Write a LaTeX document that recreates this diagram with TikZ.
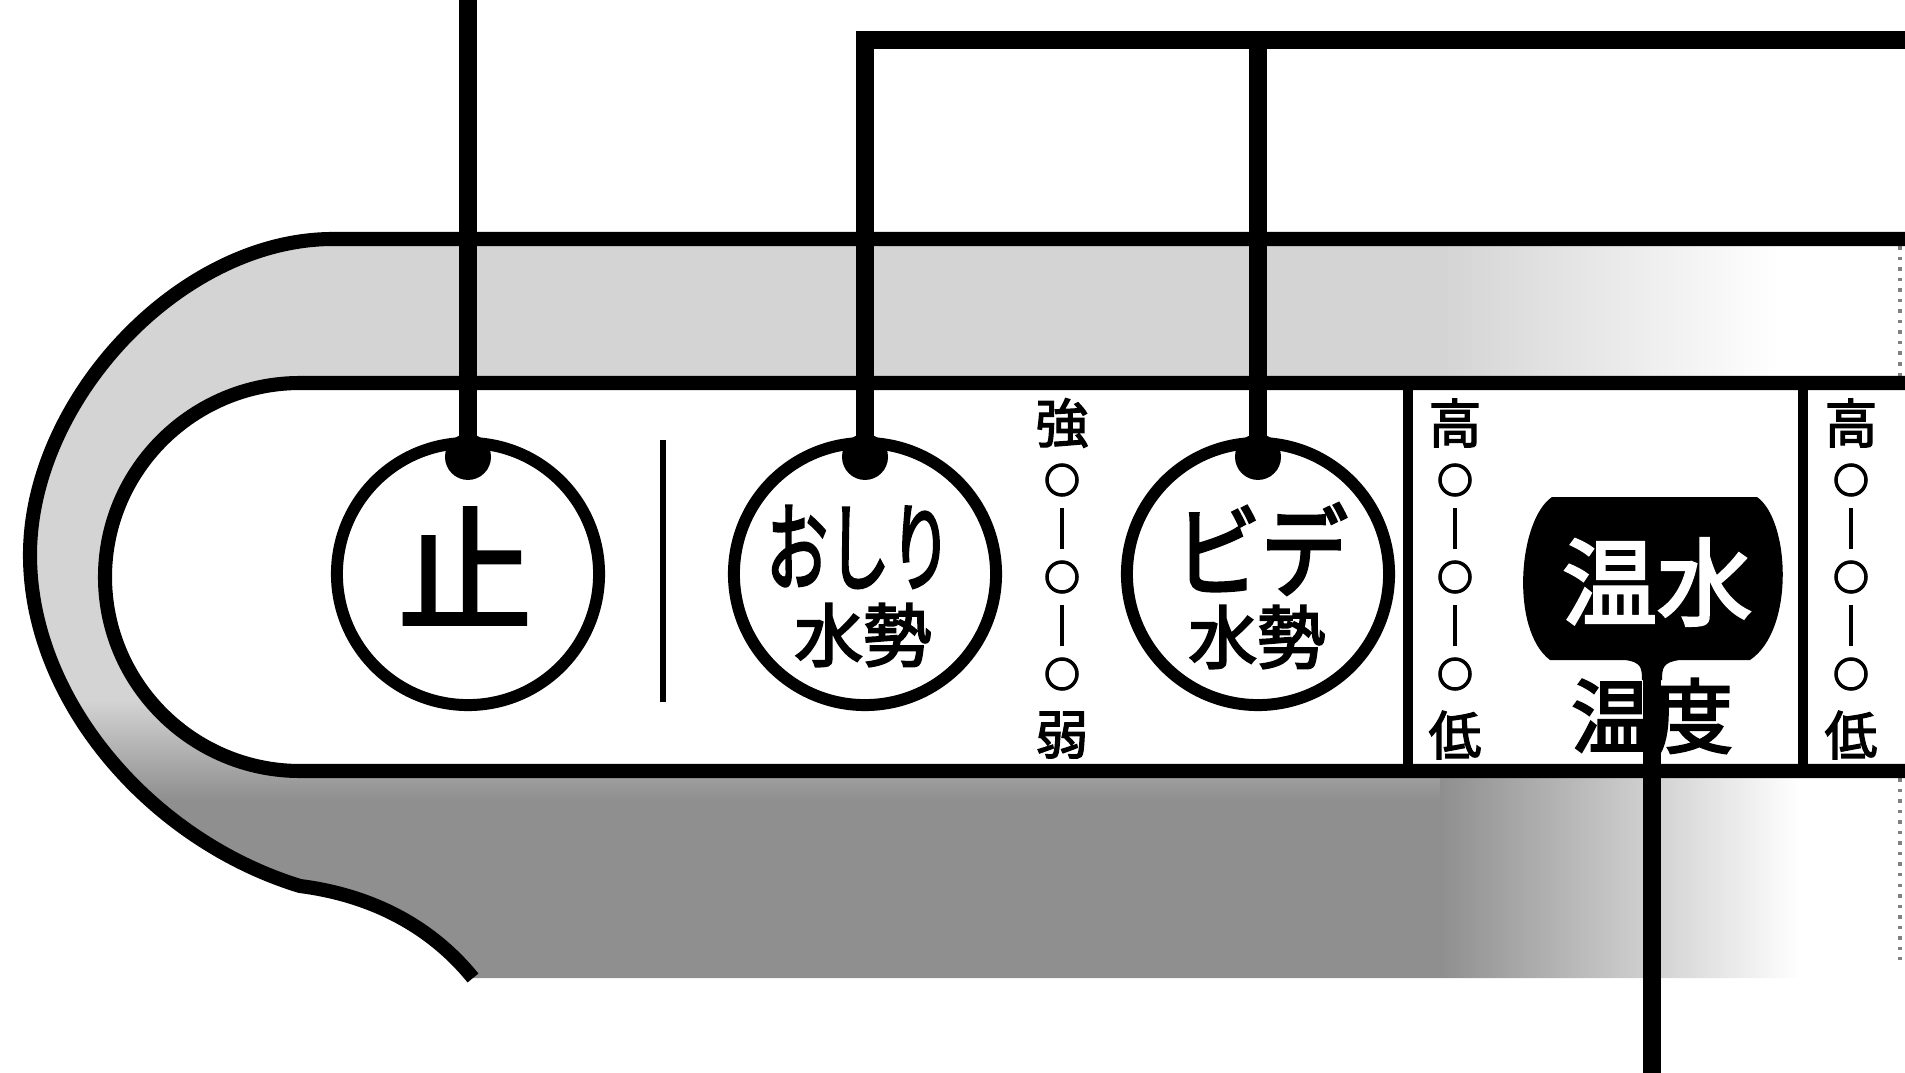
\documentclass[tikz,border=0pt]{standalone}
\usepackage{fontspec}
\usepackage{graphicx}
\newfontfamily\jp{Noto Sans CJK JP}[AutoFakeBold=2.5]
\newfontfamily\jpm{Noto Sans CJK JP}[FakeBold=3]
\newcommand\jpsize[1]{\jp\fontsize{#1}{#1}\selectfont}
\newcommand\jpmsize[1]{\jpm\fontsize{#1}{#1}\selectfont}
\usetikzlibrary{calc}

\begin{document}
\begin{tikzpicture}[x=0.01cm, y=-0.01cm,
    btn/.style={draw, circle, line width=3.4pt, minimum size=2.62cm, inner sep=0pt},
    knob/.style={fill, circle, inner sep=0pt, minimum size=0.46cm},
    lead/.style={line width=5pt},
    rim/.style={line width=4pt},
    divider/.style={line width=3pt},
    lvl/.style={draw, circle, line width=1pt, minimum size=0.3cm, inner sep=0pt},
    tick/.style={line width=1.4pt, shorten <=0.11cm, shorten >=0.11cm},
    lbl/.style={font=\jpsize{15}\bfseries, inner sep=0pt}
]
\useasboundingbox (0,0) rectangle (1905,1073);

\begin{scope}
\clip (1905,239) -- (333,239) .. controls (180,239) and (30,400) .. (30,555)
    .. controls (30,700) and (150,840) .. (300,886)
    .. controls (370,895) and (430,925) .. (473,978) -- (1905,978) -- cycle;
\fill[black!17] (0,230) rectangle (1440,700);
\shade[top color=black!17, bottom color=black!44] (0,700) rectangle (1440,800);
\fill[black!44] (0,800) rectangle (1440,990);
\shade[left color=black!17, right color=white] (1440,230) rectangle (1780,771);
\shade[left color=black!44, right color=white] (1440,771) rectangle (1800,990);
\end{scope}
\draw[black!50, line width=1pt, dotted] (1900,246) -- (1900,376);
\draw[black!50, line width=1pt, dotted] (1900,778) -- (1900,960);

\fill[white] (1905,383) -- (300,383) .. controls (193,383) and (105,470) .. (105,577)
    .. controls (105,684) and (193,771) .. (300,771) -- (1905,771) -- cycle;
\draw[rim] (1905,383) -- (300,383) .. controls (193,383) and (105,470) .. (105,577)
    .. controls (105,684) and (193,771) .. (300,771) -- (1905,771);
\draw[rim] (1905,239) -- (333,239) .. controls (180,239) and (30,400) .. (30,555)
    .. controls (30,700) and (150,840) .. (300,886)
    .. controls (370,895) and (430,925) .. (473,978);

\node[btn] (stop) at (468,574) {};
\node[font=\jpmsize{38}, inner sep=0pt] (stoplbl) at (465,566) {止};
\draw[line width=1.6pt] (663,440) -- (663,702);

\node[btn] (osh) at (865,574) {};
\node[font=\jpmsize{22}, inner sep=0pt] (oshlbl) at (859,547) {\scalebox{0.8}[1.25]{おしり}};
\node[font=\jpmsize{19.5}, inner sep=0pt] (oshsub) at (863,635) {水勢};

\node[btn] (bid) at (1258,574) {};
\node[font=\jpmsize{26}, inner sep=0pt] (bidlbl) at (1261,549) {\scalebox{0.95}[1.1]{ビデ}};
\node[font=\jpmsize{19.5}, inner sep=0pt] (bidsub) at (1257,637) {水勢};

\foreach \cx/\hi/\lo/\s in {1062/強/弱/a, 1455/高/低/b, 1851/高/低/c}{
    \node[lbl] (\s hi) at (\cx,423) {\hi};
    \node[lvl] (\s1) at (\cx,480) {};
    \node[lvl] (\s2) at (\cx,577) {};
    \node[lvl] (\s3) at (\cx,674) {};
    \node[lbl] (\s lo) at (\cx,735) {\lo};
    \draw[tick] (\s1) -- (\s2);
    \draw[tick] (\s2) -- (\s3);
}

\draw[divider] (1408,383) -- (1408,771);
\draw[divider] (1803,383) -- (1803,771);

\fill (1552,497) -- (1757,497) .. controls (1790,520) and (1795,630) .. (1750,660)
    -- (1680,660) .. controls (1663,662) and (1662,668) .. (1662,680)
    -- (1642,680) .. controls (1642,668) and (1641,662) .. (1625,660)
    -- (1550,660) .. controls (1510,630) and (1518,520) .. (1552,497) -- cycle;
\node[font=\jpmsize{27}, text=white, inner sep=0pt] (warm) at (1657,582) {温水};
\node[font=\jpmsize{23}, inner sep=0pt] (warmsub) at (1652,716) {温度};

\coordinate (stoptop) at (468,0);
\coordinate (topright) at (1905,40);
\coordinate (blobfoot) at (1652,675);
\coordinate (botend) at (1652,1073);

\node[knob] (stopk) at ($(stop.north)+(0,20)$) {};
\node[knob] (oshk) at ($(osh.north)+(0,20)$) {};
\node[knob] (bidk) at ($(bid.north)+(0,20)$) {};

\draw[lead] (stoptop) -- (stop.north);
\draw[lead] (osh.north) |- (topright);
\draw[lead] (bid.north) -- (bid.north |- topright);
\draw[lead] (blobfoot) -- (botend);
\end{tikzpicture}
\end{document}
